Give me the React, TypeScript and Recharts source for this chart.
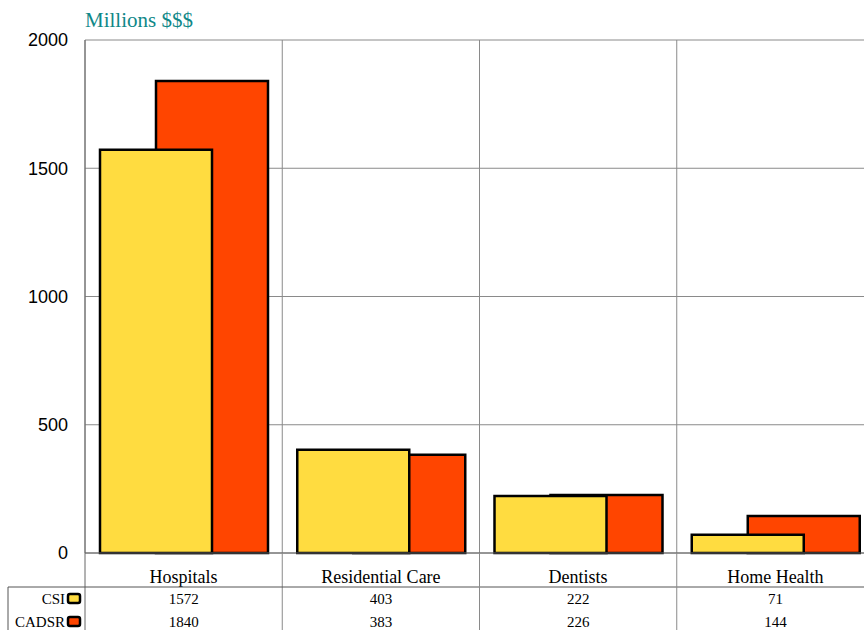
import React from "react";
import { Bar, BarChart, CartesianGrid, XAxis, YAxis } from "recharts";

const categories = ["Hospitals", "Residential Care", "Dentists", "Home Health"];
const csi = [1572, 403, 222, 71];
const cadsr = [1840, 383, 226, 144];
const yTicks = [0, 500, 1000, 1500, 2000];

const data = categories.map((name, i) => ({ name, csi: csi[i], cadsr: cadsr[i] }));

const serif = "'Liberation Serif', 'Times New Roman', serif";
const sans = "'Liberation Sans', Arial, sans-serif";
const YELLOW = "#FFDC40";
const RED = "#FF4500";
const GRID = "#8a8a8a";

const series = [
  { label: "CSI", values: csi, color: YELLOW },
  { label: "CADSR", values: cadsr, color: RED },
];

// category label + data table cells under each band
const CategoryTick = (props: any) => {
  const { x, y, payload, index } = props;
  const half = payload?.offset || 98.6;
  const left = x - half;
  const right = x + half;
  return (
    <g>
      <text x={x} y={y + 30} textAnchor="middle" fontFamily={serif} fontSize={18} fill="#000">
        {payload.value}
      </text>
      {series.map((s, r) => (
        <text
          key={s.label}
          x={x}
          y={y + 51 + r * 23}
          textAnchor="middle"
          fontFamily={serif}
          fontSize={15}
          fill="#000"
        >
          {s.values[index]}
        </text>
      ))}
      <line x1={right} y1={y} x2={right} y2={y + 120} stroke={GRID} strokeWidth={1} />
      {index === 0 && (
        <g>
          <line x1={left} y1={y} x2={left} y2={y + 120} stroke="#666" strokeWidth={1} />
          <line x1={left - 77} y1={y + 34} x2={left + 8 * half + 40} y2={y + 34} stroke="#555" strokeWidth={1} />
          <line x1={left - 77} y1={y + 34} x2={left - 77} y2={y + 120} stroke="#555" strokeWidth={1} />
          {series.map((s, r) => (
            <g key={s.label}>
              <text
                x={left - 20}
                y={y + 51 + r * 23}
                textAnchor="end"
                fontFamily={serif}
                fontSize={15}
                fill="#000"
              >
                {s.label}
              </text>
              <rect
                x={left - 17}
                y={y + 41 + r * 23}
                width={12}
                height={9}
                rx={2}
                fill={s.color}
                stroke="#000"
                strokeWidth={2.5}
              />
            </g>
          ))}
        </g>
      )}
    </g>
  );
};

export default function App() {
  return (
    <div
      style={{
        position: "fixed",
        left: 0,
        top: 0,
        width: 864,
        height: 630,
        overflow: "hidden",
        background: "#fff",
      }}
    >
      <div
        style={{
          position: "absolute",
          left: 85,
          top: 10,
          fontFamily: serif,
          fontSize: 21,
          lineHeight: "21px",
          color: "#108888",
          whiteSpace: "nowrap",
        }}
      >
        Millions $$$
      </div>
      <BarChart
        width={880}
        height={660}
        data={data}
        margin={{ top: 40, right: 6, bottom: 0, left: 0 }}
        barGap={-168}
      >
        <CartesianGrid
          stroke={GRID}
          strokeDasharray="0"
          verticalCoordinatesGenerator={({ offset }: any) =>
            [0, 1, 2, 3, 4].map((i) => offset.left + (i * offset.width) / 4)
          }
        />
        <XAxis
          dataKey="name"
          height={107}
          interval={0}
          tickLine={false}
          tickSize={0}
          tickMargin={0}
          axisLine={{ stroke: "#666" }}
          tick={<CategoryTick />}
        />
        <YAxis
          width={85}
          domain={[0, 2000]}
          ticks={yTicks}
          tickLine={false}
          tickSize={0}
          tickMargin={17}
          axisLine={{ stroke: "#666" }}
          tick={{ fill: "#000", fontFamily: sans, fontSize: 18 }}
        />
        <Bar dataKey="cadsr" fill={RED} stroke="#000" strokeWidth={2.5} barSize={112} isAnimationActive={false} />
        <Bar dataKey="csi" fill={YELLOW} stroke="#000" strokeWidth={2.5} barSize={112} isAnimationActive={false} />
      </BarChart>
    </div>
  );
}
